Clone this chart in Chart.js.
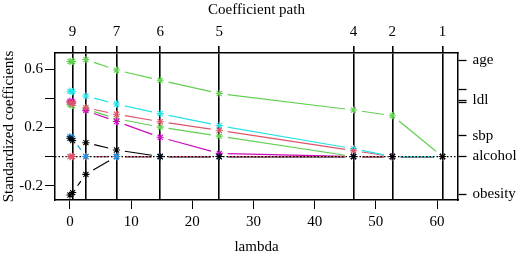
<!DOCTYPE html>
<html>
<head>
<meta charset="utf-8">
<script src="https://cdn.jsdelivr.net/npm/chart.js@4.4.1/dist/chart.umd.min.js"></script>
<style>
  html, body { margin: 0; padding: 0; background: #fff; }
  #wrap { width: 519px; height: 259px; }
</style>
</head>
<body>
<div id="wrap"><canvas id="coefChart" width="519" height="259"></canvas></div>
<script>
// lambda at every step of the path
const lambdaSteps = [0, 0.43, 2.6, 7.6, 14.75, 24.4, 46.35, 52.7, 60.9];
// vertical step lines + number of active variables on the top axis
const stepLines = [0.43, 2.6, 7.6, 14.75, 24.4, 46.35, 52.7, 60.9];
const stepCounts = ['9', '', '7', '6', '5', '4', '2', '1'];

// coefficients, one value per lambda step
const coefBlack1  = [0.125, 0.11, 0.095, 0.045, 0, 0, 0, 0, 0];
const coefRed1    = [0.37, 0.365, 0.335, 0.29, 0.239, 0.18, 0.04, 0, 0];
const coefAge     = [0.652, 0.652, 0.665, 0.593, 0.523, 0.432, 0.319, 0.28, 0];
const coefBlue    = [0.136, 0.124, 0, 0, 0, 0, 0, 0, 0];
const coefMagenta = [0.38, 0.375, 0.315, 0.24, 0.132, 0.022, 0, 0, 0];
const coefBlack2  = [-0.264, -0.247, -0.122, 0, 0, 0, 0, 0, 0];
const coefGreen2  = [0.355, 0.35, 0.325, 0.26, 0.202, 0.14, 0, 0, 0];
const coefAlcohol = [0, 0, 0, 0, 0, 0, 0, 0, 0];
const coefCyan    = [0.448, 0.445, 0.415, 0.36, 0.294, 0.212, 0.054, 0, 0];

// axes
const xRange = [-2.45, 63.43];
const yRange = [-0.298, 0.71];
const xTicks = [0, 10, 20, 30, 40, 50, 60];
const yTicks = [-0.2, 0, 0.2, 0.4, 0.6];
const yTickLabels = ['-0.2', '', '0.2', '', '0.6'];
const rightTicks = [0.662, 0.461, 0.384, 0.37, 0.141, 0, -0.26];
const rightLabels = ['age', '', 'ldl', '', 'sbp', 'alcohol', 'obesity'];

Chart.defaults.font.family = "'Liberation Serif', 'Times New Roman', serif";
Chart.defaults.font.size = 15;
Chart.defaults.color = '#000';

function path(values, color) {
    return {
        data: lambdaSteps.map((l, i) => ({ x: l, y: values[i] })),
        borderColor: color,
        backgroundColor: color,
        showLine: false,
        gapped: true,
        pointStyle: 'star',
        pointRadius: 3.6,
        pointBorderWidth: 1.1
    };
}

// lines between the steps, with a gap round each point (like type="b")
const gapLines = {
    id: 'gapLines',
    beforeDatasetsDraw(chart) {
        const ctx = chart.ctx;
        const gap = 8.5;
        ctx.save();
        chart.data.datasets.forEach(function (ds, i) {
            if (!ds.gapped) return;
            const pts = chart.getDatasetMeta(i).data;
            ctx.strokeStyle = ds.borderColor;
            ctx.lineWidth = 1.2;
            ctx.beginPath();
            for (let k = 0; k < pts.length - 1; k++) {
                const p0 = pts[k], p1 = pts[k + 1];
                const dx = p1.x - p0.x, dy = p1.y - p0.y;
                const len = Math.hypot(dx, dy);
                if (len <= 2 * gap + 1) continue;
                const ux = dx / len, uy = dy / len;
                ctx.moveTo(p0.x + ux * gap, p0.y + uy * gap);
                ctx.lineTo(p1.x - ux * gap, p1.y - uy * gap);
            }
            ctx.stroke();
        });
        ctx.restore();
    }
};

new Chart(document.getElementById('coefChart'), {
    type: 'scatter',
    data: {
        datasets: [
            path(coefBlack1, '#000000'),
            path(coefRed1, '#DF536B'),
            path(coefAge, '#61D04F'),
            path(coefBlue, '#2297E6'),
            path(coefMagenta, '#CD0BBC'),
            path(coefBlack2, '#000000'),
            path(coefGreen2, '#61D04F'),
            path(coefAlcohol, '#DF536B'),
            path(coefCyan, '#28E2E5'),
            {
                // dotted zero line
                data: [{ x: xRange[0], y: 0 }, { x: xRange[1], y: 0 }],
                showLine: true,
                borderColor: '#000',
                borderWidth: 1.3,
                borderDash: [1.5, 2],
                pointRadius: 0
            }
        ]
    },
    options: {
        responsive: false,
        animation: false,
        layout: { padding: 0 },
        plugins: {
            legend: { display: false },
            tooltip: { enabled: false }
        },
        scales: {
            x: {
                type: 'linear',
                position: 'bottom',
                min: xRange[0],
                max: xRange[1],
                afterBuildTicks: s => { s.ticks = xTicks.map(v => ({ value: v })); },
                afterFit: s => { s.height = 59; },
                ticks: { autoSkip: false, maxRotation: 0, padding: 4, callback: v => String(v) },
                grid: { drawOnChartArea: false, tickLength: 9, tickColor: '#000', tickWidth: 1 },
                border: { display: true, color: '#000', width: 1.5 },
                title: { display: true, text: 'lambda', padding: { top: 0, bottom: 3 } }
            },
            xTop: {
                type: 'linear',
                position: 'top',
                min: xRange[0],
                max: xRange[1],
                afterBuildTicks: s => { s.ticks = stepLines.map(v => ({ value: v })); },
                afterFit: s => { s.height = 53; },
                ticks: { autoSkip: false, maxRotation: 0, padding: 5, callback: (v, i) => stepCounts[i] },
                grid: { drawOnChartArea: true, color: '#000', lineWidth: 1.6, tickLength: 7, tickColor: '#000', tickWidth: 1.6 },
                border: { display: true, color: '#000', width: 1.5 },
                title: { display: true, text: 'Coefficient path', padding: { top: 1, bottom: 0 } }
            },
            y: {
                type: 'linear',
                position: 'left',
                min: yRange[0],
                max: yRange[1],
                afterBuildTicks: s => { s.ticks = yTicks.map(v => ({ value: v })); },
                afterFit: s => { s.width = 55; },
                ticks: { autoSkip: false, padding: 2, callback: (v, i) => yTickLabels[i] },
                grid: { drawOnChartArea: false, tickLength: 10, tickColor: '#000', tickWidth: 1 },
                border: { display: true, color: '#000', width: 1.5 },
                title: { display: true, text: 'Standardized coefficients', padding: { top: 0, bottom: 0 } }
            },
            yRight: {
                type: 'linear',
                position: 'right',
                min: yRange[0],
                max: yRange[1],
                afterBuildTicks: s => { s.ticks = rightTicks.map(v => ({ value: v })); },
                afterFit: s => { s.width = 61; },
                ticks: { autoSkip: false, padding: 6, callback: (v, i) => rightLabels[i] },
                grid: { drawOnChartArea: false, tickLength: 8.5, tickColor: '#000', tickWidth: 1.3 },
                border: { display: true, color: '#000', width: 1.5 }
            }
        }
    },
    plugins: [gapLines]
});
</script>
</body>
</html>
